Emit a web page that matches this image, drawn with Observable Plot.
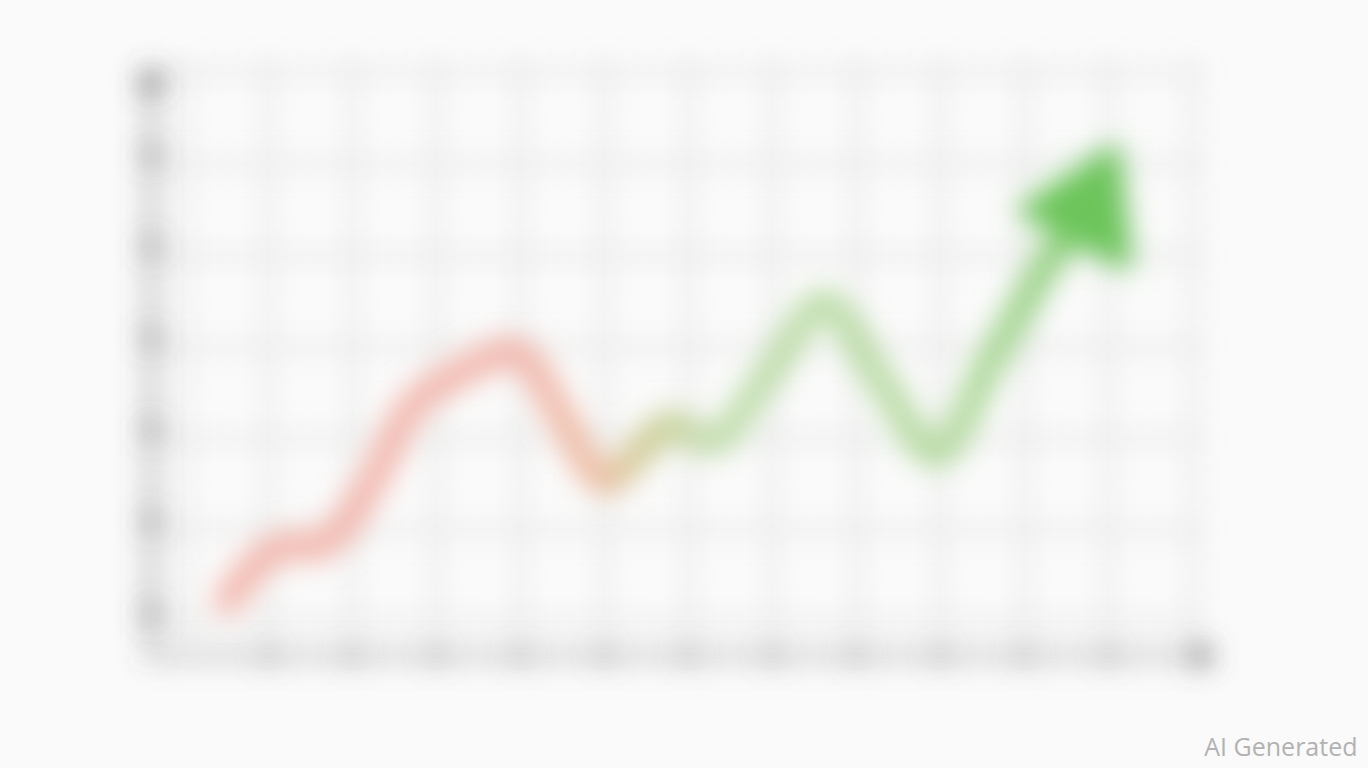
<!DOCTYPE html>
<html>
<head>
<meta charset="utf-8">
<script src="https://cdn.jsdelivr.net/npm/d3@7"></script>
<script src="https://cdn.jsdelivr.net/npm/@observablehq/plot@0.6"></script>
<style>
  html, body { margin: 0; padding: 0; background: #fafafa; }
  #chart svg { display: block; }
</style>
</head>
<body>
<div id="chart"></div>
<script>
// ---- data (grid units) ----
const xGrid = [0, 1, 2, 3, 4, 5, 6, 7, 8, 9, 10, 11, 12];
const yGrid = [0, 1, 2, 3, 4, 5, 6];
const xTicks = [1, 2, 3, 4, 5, 6, 7, 8, 9, 10, 11];
const yTicks = [0.1, 1.1, 2.1, 3.1, 4.1, 5.1];
const lineX = [0.52, 0.96, 1.26, 1.62, 1.92, 2.33, 2.69, 3.05, 3.52, 3.85, 4.06, 4.48, 5.01, 5.43, 5.79, 6.02, 6.32, 6.98, 7.62, 8.29, 8.95, 9.60, 10.31, 10.65];
const lineY = [0.23, 0.72, 0.83, 0.83, 1.08, 1.70, 2.33, 2.60, 2.83, 2.95, 2.88, 2.25, 1.54, 1.87, 2.16, 2.05, 1.98, 2.74, 3.47, 2.63, 1.84, 2.85, 3.97, 4.40];
const headX = [10.01, 11.06, 11.20, 10.01];
const headY = [4.49, 5.13, 3.92, 4.49];
const xDomain = [-0.4, 12.3];
const yDomain = [-0.37, 6.3];
const xAxisEnd = 12.1;
const yAxisEnd = 5.9;
const caption = ["AI Generated"];

const line = lineX.map((x, i) => ({x, y: lineY[i]}));
const head = headX.map((x, i) => ({x, y: headY[i]}));

const plot = Plot.plot({
  width: 1368,
  height: 768,
  marginLeft: 150,
  marginRight: 11,
  marginTop: 40,
  marginBottom: 13,
  style: {background: "#fafafa", overflow: "visible"},
  x: {domain: xDomain, range: [150.4, 1217.2], axis: null},
  y: {domain: yDomain, range: [654.9, 44.5], axis: null},
  marks: [
    Plot.ruleX(xGrid, {x: d => d, y1: -0.25, y2: 6.15, stroke: "#c3c7c3", strokeWidth: 3}),
    Plot.ruleY(yGrid, {y: d => d, x1: xDomain[0], x2: 12.1, stroke: "#c3c7c3", strokeWidth: 3}),
    Plot.link([0], {x1: xDomain[0], y1: yDomain[0], x2: xDomain[0], y2: yAxisEnd, stroke: "#666", strokeWidth: 5}),
    Plot.link([0], {x1: xDomain[0], y1: yDomain[0], x2: xAxisEnd, y2: yDomain[0], stroke: "#888", strokeWidth: 5}),
    Plot.dot(yTicks, {x: xDomain[0], y: d => d, r: 7, fill: "#666"}),
    Plot.dot(xTicks, {x: d => d, y: yDomain[0], r: 6, fill: "#888"}),
    Plot.dot([0], {x: xDomain[0], y: yAxisEnd, r: 10, fill: "#555"}),
    Plot.dot([0], {x: xAxisEnd, y: yDomain[0], r: 10, fill: "#666"}),
    Plot.line(line, {x: "x", y: "y", stroke: "url(#trend)", strokeWidth: 28, curve: "catmull-rom", strokeLinecap: "round", strokeLinejoin: "round"}),
    Plot.line(head, {x: "x", y: "y", fill: "#6cc45a", stroke: "#6cc45a", strokeWidth: 14, strokeLinejoin: "round"}),
    Plot.text(caption, {frameAnchor: "bottom-right", textAnchor: "end", lineAnchor: "bottom", fontSize: 25, fill: "#b2b2b2", fontFamily: "Open Sans, DejaVu Sans, sans-serif"})
  ]
});

const sx = plot.scale("x");
const svg = d3.select(plot);
const defs = svg.insert("defs", ":first-child");
const grad = defs.append("linearGradient")
  .attr("id", "trend")
  .attr("gradientUnits", "userSpaceOnUse")
  .attr("x1", sx.apply(lineX[0])).attr("y1", 0)
  .attr("x2", sx.apply(headX[1])).attr("y2", 0);
[[0, "#f2b3a9"], [0.33, "#f2b3a9"], [0.42, "#ecbb9f"], [0.47, "#cccb90"], [0.55, "#bedca9"], [0.82, "#b3d99d"], [1, "#78c866"]]
  .forEach(([o, c]) => grad.append("stop").attr("offset", o).attr("stop-color", c));
const blur = defs.append("filter")
  .attr("id", "blur")
  .attr("filterUnits", "userSpaceOnUse")
  .attr("x", 0).attr("y", 0).attr("width", 1368).attr("height", 768);
blur.append("feGaussianBlur").attr("stdDeviation", 14);

svg.selectAll(":scope > g").filter(function() {
  return this.getAttribute("aria-label") !== "text";
}).attr("filter", "url(#blur)");

document.getElementById("chart").appendChild(plot);
</script>
</body>
</html>
